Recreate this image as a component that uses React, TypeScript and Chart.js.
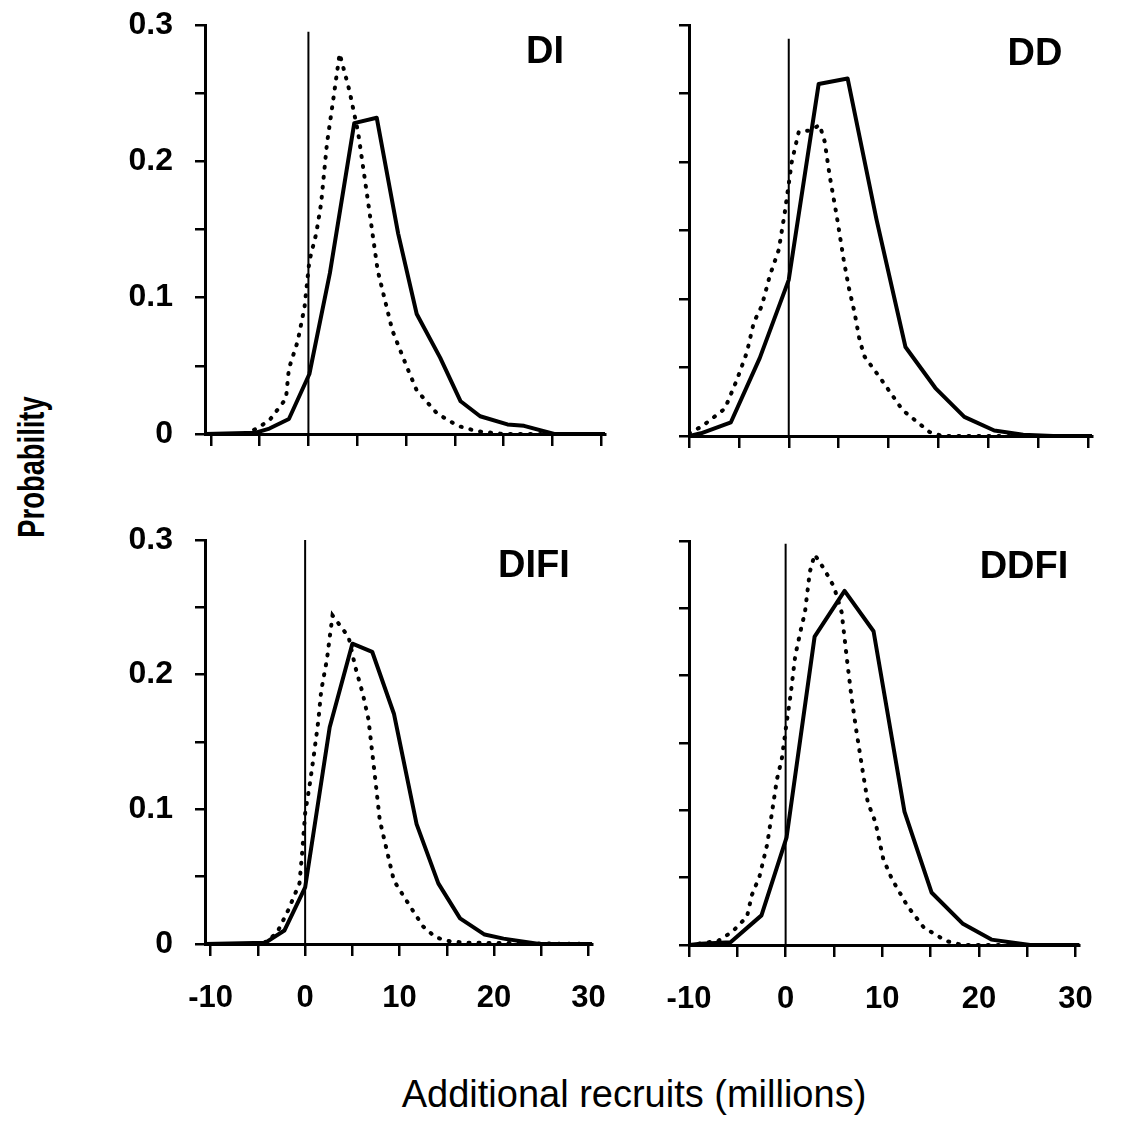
import React, { useEffect, useRef } from 'react';
import { Chart, registerables } from 'chart.js';

Chart.register(...registerables);

// ---- tick definitions ----
const xTickValues = [-10, -5, 0, 5, 10, 15, 20, 25, 30];
const xTickLabels = ['-10', '', '0', '', '10', '', '20', '', '30'];
const yTickValues = [0, 0.05, 0.1, 0.15, 0.2, 0.25, 0.3];
const yTickLabels = ['0', '', '0.1', '', '0.2', '', '0.3'];

// ---- DI ----
const diSolidX = [-10.6, -5.4, -4.0, -2.0, 0.1, 2.2, 4.7, 7.0, 9.2, 11.1, 13.5, 15.6, 17.6, 20.4, 22.1, 25.2, 30.4];
const diSolidY = [0, 0.001, 0.004, 0.011, 0.044, 0.118, 0.228, 0.232, 0.147, 0.088, 0.056, 0.024, 0.013, 0.007, 0.006, 0, 0];
const diDotX = [-10.6, -6.5, -5.3, -4.0, -2.3, -2.0, -1.1, -0.4, 0.1, 0.8, 1.3, 1.9, 2.5, 3.2, 4.2, 5.1, 6.1, 7.1, 8.6, 10.1, 11.1, 13.2, 15.3, 17.3, 20.0, 30.4];
const diDotY = [0, 0, 0.004, 0.01, 0.026, 0.048, 0.068, 0.093, 0.127, 0.147, 0.169, 0.213, 0.243, 0.279, 0.252, 0.221, 0.171, 0.12, 0.076, 0.049, 0.032, 0.015, 0.006, 0.002, 0, 0];

// ---- DD ----
const ddSolidX = [-10, -8.8, -5.8, -2.9, 0, 3.0, 5.9, 8.8, 11.7, 14.7, 17.6, 20.6, 23.5, 26.5, 30.4];
const ddSolidY = [0, 0.002, 0.01, 0.057, 0.114, 0.257, 0.261, 0.158, 0.065, 0.035, 0.014, 0.004, 0.001, 0, 0];
const ddDotX = [-10, -8.7, -6.4, -5.2, -4.2, -3.5, -2.7, -1.9, -1.0, -0.4, 0.3, 1.0, 2.1, 3.1, 3.6, 4.1, 4.8, 5.5, 6.0, 6.6, 7.1, 7.6, 9.3, 11.4, 14.1, 15.4, 30.4];
const ddDotY = [0.002, 0.007, 0.02, 0.041, 0.061, 0.083, 0.095, 0.117, 0.136, 0.163, 0.2, 0.222, 0.223, 0.227, 0.215, 0.19, 0.161, 0.129, 0.109, 0.09, 0.07, 0.058, 0.041, 0.019, 0.003, 0, 0];

// ---- DIFI ----
const difiSolidX = [-10.6, -4.2, -2.2, 0, 2.6, 5.0, 7.1, 9.4, 11.8, 14.1, 16.4, 19.0, 21.0, 24.8, 30.4];
const difiSolidY = [0, 0.001, 0.01, 0.042, 0.161, 0.223, 0.217, 0.171, 0.089, 0.045, 0.019, 0.007, 0.004, 0, 0];
const difiDotX = [-10.6, -4.5, -3.0, -1.8, -0.6, -0.3, 0, 0.5, 0.9, 1.4, 1.7, 2.3, 2.9, 4.6, 5.3, 6.1, 6.7, 7.4, 7.9, 8.4, 9.4, 11.2, 12.5, 13.8, 15.3, 17.0, 30.4];
const difiDotY = [0, 0, 0.008, 0.025, 0.045, 0.069, 0.097, 0.119, 0.139, 0.166, 0.188, 0.211, 0.244, 0.228, 0.206, 0.186, 0.167, 0.124, 0.092, 0.077, 0.047, 0.027, 0.013, 0.005, 0.002, 0.001, 0];

// ---- DDFI ----
const ddfiSolidX = [-10, -8.8, -5.7, -2.5, 0.1, 3.0, 6.1, 9.1, 12.3, 15.1, 18.3, 21.3, 25.3, 30.4];
const ddfiSolidY = [0, 0.001, 0.002, 0.022, 0.08, 0.229, 0.263, 0.233, 0.099, 0.039, 0.016, 0.004, 0, 0];
const ddfiDotX = [-10, -7.0, -5.5, -4.0, -3.5, -2.7, -1.9, -1.4, -0.9, -0.4, 0.1, 0.5, 1.0, 1.6, 2.0, 2.5, 3.0, 4.0, 5.0, 5.8, 6.3, 6.8, 7.3, 8.0, 8.5, 9.3, 10.1, 11.0, 12.6, 14.3, 16.6, 18.3, 30.4];
const ddfiDotY = [0, 0.003, 0.01, 0.021, 0.037, 0.051, 0.075, 0.099, 0.123, 0.138, 0.165, 0.185, 0.215, 0.235, 0.247, 0.277, 0.29, 0.279, 0.266, 0.247, 0.215, 0.185, 0.16, 0.128, 0.106, 0.091, 0.064, 0.049, 0.029, 0.013, 0.003, 0, 0];

// ---- vertical reference line at zero ----
const zeroX = [0, 0];
const diZeroY = [0, 0.295];
const ddZeroY = [0, 0.29];
const difiZeroY = [0, 0.3];
const ddfiZeroY = [0, 0.298];

const FONT = '"Liberation Sans", Arial, Helvetica, sans-serif';

const toPts = (xs: number[], ys: number[]) => xs.map((x, i) => ({ x, y: ys[i] }));

interface PanelCfg {
  name: string;
  solidX: number[]; solidY: number[];
  dotX: number[]; dotY: number[];
  zeroY: number[];
  left: number; top: number; width: number; height: number;
  padTop: number; padRight: number; yW: number; xH: number;
  xMin: number; xMax: number;
  showX: boolean; showY: boolean;
  labelX: number; labelY: number;
}

const PAD_TOP = 45;

const panels: PanelCfg[] = [
  { name: 'DI', solidX: diSolidX, solidY: diSolidY, dotX: diDotX, dotY: diDotY, zeroY: diZeroY,
    left: 100, top: -20, width: 530, height: 499, padTop: PAD_TOP, padRight: 25, yW: 105, xH: 45,
    xMin: -10.6, xMax: 30.4, showX: false, showY: true, labelX: 545, labelY: 50 },
  { name: 'DD', solidX: ddSolidX, solidY: ddSolidY, dotX: ddDotX, dotY: ddDotY, zeroY: ddZeroY,
    left: 640, top: -20, width: 477, height: 501, padTop: PAD_TOP, padRight: 25, yW: 49, xH: 45,
    xMin: -10, xMax: 30.4, showX: false, showY: false, labelX: 1035, labelY: 52 },
  { name: 'DIFI', solidX: difiSolidX, solidY: difiSolidY, dotX: difiDotX, dotY: difiDotY, zeroY: difiZeroY,
    left: 100, top: 495, width: 530, height: 519, padTop: PAD_TOP, padRight: 25, yW: 105, xH: 70,
    xMin: -10.6, xMax: 30.4, showX: true, showY: true, labelX: 534, labelY: 564 },
  { name: 'DDFI', solidX: ddfiSolidX, solidY: ddfiSolidY, dotX: ddfiDotX, dotY: ddfiDotY, zeroY: ddfiZeroY,
    left: 640, top: 496, width: 477, height: 519, padTop: PAD_TOP, padRight: 25, yW: 49, xH: 70,
    xMin: -10, xMax: 30.4, showX: true, showY: false, labelX: 1024, labelY: 565 },
];

function Panel({ cfg }: { cfg: PanelCfg }) {
  const ref = useRef<HTMLCanvasElement>(null);
  useEffect(() => {
    const canvas = ref.current;
    if (!canvas) return;
    const chart = new Chart(canvas, {
      type: 'line',
      data: {
        datasets: [
          { data: toPts(zeroX, cfg.zeroY), borderColor: '#000', borderWidth: 2, pointRadius: 0, fill: false },
          { data: toPts(cfg.dotX, cfg.dotY), borderColor: '#000', borderWidth: 4, borderDash: [1, 9],
            borderCapStyle: 'round', pointRadius: 0, fill: false },
          { data: toPts(cfg.solidX, cfg.solidY), borderColor: '#000', borderWidth: 4,
            borderJoinStyle: 'round', pointRadius: 0, fill: false },
        ],
      } as any,
      options: {
        responsive: false,
        animation: false,
        devicePixelRatio: 1,
        layout: { padding: { left: 0, top: cfg.padTop, right: cfg.padRight, bottom: 0 } },
        plugins: { legend: { display: false }, tooltip: { enabled: false }, title: { display: false } },
        scales: {
          x: {
            type: 'linear',
            min: cfg.xMin,
            max: cfg.xMax,
            afterBuildTicks: (s: any) => { s.ticks = xTickValues.map((v) => ({ value: v })); },
            afterFit: (s: any) => { s.height = cfg.xH; },
            ticks: {
              autoSkip: false,
              maxRotation: 0,
              padding: 24,
              color: '#000',
              font: { family: FONT, size: 31, weight: 'bold' },
              callback: (_v: any, i: number) => (cfg.showX ? xTickLabels[i] : ''),
            },
            grid: { display: true, drawOnChartArea: false, drawTicks: true, tickLength: 12, color: '#000', lineWidth: 2.5 },
            border: { display: true, color: '#000', width: 3 },
          },
          y: {
            type: 'linear',
            min: 0,
            max: 0.3,
            afterBuildTicks: (s: any) => { s.ticks = yTickValues.map((v) => ({ value: v })); },
            afterFit: (s: any) => { s.width = cfg.yW; },
            ticks: {
              autoSkip: false,
              padding: 22,
              color: '#000',
              font: { family: FONT, size: 32, weight: 'bold' },
              callback: (_v: any, i: number) => (cfg.showY ? yTickLabels[i] : ''),
            },
            grid: { display: true, drawOnChartArea: false, drawTicks: true, tickLength: 10, color: '#000', lineWidth: 2.5 },
            border: { display: true, color: '#000', width: 3 },
          },
        },
      } as any,
    });
    return () => chart.destroy();
  }, [cfg]);
  return (
    <canvas
      ref={ref}
      width={cfg.width}
      height={cfg.height}
      style={{ position: 'absolute', left: cfg.left, top: cfg.top, width: cfg.width, height: cfg.height }}
    />
  );
}

export default function App() {
  return (
    <div style={{ position: 'absolute', left: 0, top: 0, width: 1127, height: 1133, background: '#fff', overflow: 'hidden' }}>
      {panels.map((p) => (
        <Panel key={p.name} cfg={p} />
      ))}
      {panels.map((p) => (
        <div
          key={p.name + '-label'}
          style={{
            position: 'absolute', left: p.labelX, top: p.labelY, transform: 'translate(-50%, -50%)',
            fontFamily: FONT, fontWeight: 'bold', fontSize: 38, lineHeight: 1, color: '#000', whiteSpace: 'nowrap',
          }}
        >
          {p.name}
        </div>
      ))}
      <div
        style={{
          position: 'absolute', left: 32, top: 467, transform: 'translate(-50%, -50%) rotate(-90deg) scale(0.76, 1)',
          fontFamily: FONT, fontWeight: 'bold',
          fontSize: 36, lineHeight: 1, color: '#000', whiteSpace: 'nowrap',
        }}
      >
        Probability
      </div>
      <div
        style={{
          position: 'absolute', left: 634, top: 1094, transform: 'translate(-50%, -50%)',
          fontFamily: FONT, fontSize: 38, lineHeight: 1, color: '#000', whiteSpace: 'nowrap',
        }}
      >
        Additional recruits (millions)
      </div>
    </div>
  );
}
